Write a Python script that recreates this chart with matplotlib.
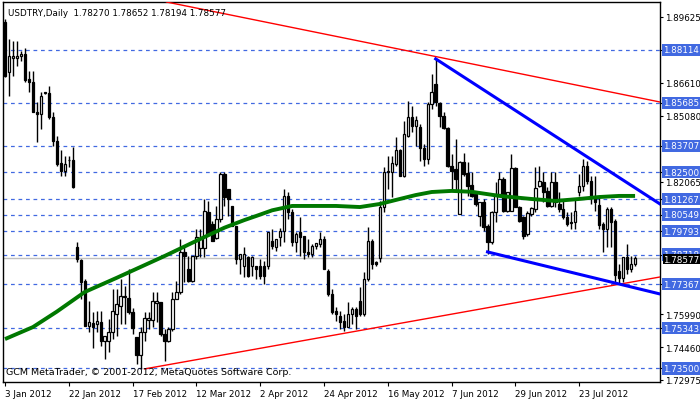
import numpy as np
import matplotlib
matplotlib.use('Agg')
import matplotlib.pyplot as plt

# daily candles
opens = [1.8939,1.8710,1.8774,1.8774,1.8783,1.8793,1.8678,1.8664,1.8526,1.8517,
         1.8614,1.8614,1.8503,1.8393,1.8292,1.8256,1.8306,1.8306,1.7907,1.7847,
         1.7751,1.7544,1.7558,1.7553,1.7562,1.7475,1.7475,1.7517,1.7599,1.7636,
         1.7677,1.7673,1.7608,1.7494,1.7411,1.7517,1.7572,1.7572,1.7650,1.7654,
         1.7507,1.7475,1.7530,1.7668,1.7700,1.7884,1.7806,1.7751,1.7865,1.7902,
         1.7902,1.8068,1.8012,1.7948,1.8035,1.8242,1.8173,1.8095,1.8003,1.7852,
         1.7820,1.7861,1.7820,1.7820,1.7820,1.7820,1.7820,1.7934,1.7907,1.7953,
         1.7980,1.8141,1.8068,1.7930,1.7976,1.7957,1.7884,1.7875,1.7911,1.7921,
         1.7943,1.7797,1.7691,1.7613,1.7590,1.7567,1.7539,1.7599,1.7622,1.7659,
         1.7599,1.7760,1.7934,1.7838,1.7856,1.8090,1.8251,1.8251,1.8288,1.8352,
         1.8233,1.8416,1.8503,1.8462,1.8457,1.8361,1.8311,1.8563,1.8655,1.8568,
         1.8508,1.8453,1.8278,1.8265,1.8058,1.8297,1.8246,1.8191,1.8150,1.8049,
         1.8113,1.8003,1.7930,1.8068,1.8150,1.8219,1.8072,1.8072,1.8269,1.8090,
         1.8044,1.7966,1.8058,1.8081,1.8187,1.8205,1.8164,1.8095,1.8205,1.8104,
         1.8081,1.8044,1.8021,1.8021,1.8159,1.8187,1.8278,1.8210,1.8136,1.8099,
         1.8012,1.7989,1.8081,1.8026,1.7797,1.7764,1.7861,1.7806,1.78270]
highs = [1.8953,1.8861,1.8852,1.8852,1.8806,1.8820,1.8715,1.8715,1.8572,1.8618,
         1.8618,1.8646,1.8526,1.8416,1.8352,1.8324,1.8324,1.8366,1.7930,1.7852,
         1.7760,1.7659,1.7608,1.7613,1.7613,1.7498,1.7577,1.7714,1.7714,1.7760,
         1.7728,1.7806,1.7627,1.7494,1.7539,1.7608,1.7608,1.7700,1.7700,1.7654,
         1.7530,1.7539,1.7700,1.7751,1.7943,1.7911,1.7865,1.7865,1.7989,1.7989,
         1.8127,1.8118,1.8026,1.8095,1.8251,1.8251,1.8173,1.8095,1.8003,1.7875,
         1.7907,1.7865,1.7865,1.7820,1.7852,1.7842,1.7976,1.7989,1.7943,1.7994,
         1.8173,1.8159,1.8081,1.7976,1.8044,1.7957,1.7943,1.7921,1.7925,1.7976,
         1.7957,1.7806,1.7714,1.7631,1.7613,1.7599,1.7654,1.7631,1.7631,1.7723,
         1.7792,1.7998,1.7943,1.7842,1.8118,1.8274,1.8324,1.8324,1.8412,1.8357,
         1.8485,1.8577,1.8554,1.8508,1.8471,1.8379,1.8572,1.8701,1.8770,1.8572,
         1.8526,1.8457,1.8334,1.8402,1.8301,1.8338,1.8297,1.8251,1.8164,1.8113,
         1.8127,1.8012,1.8072,1.8205,1.8251,1.8228,1.8159,1.8334,1.8274,1.8095,
         1.8049,1.8072,1.8090,1.8274,1.8278,1.8251,1.8182,1.8251,1.8251,1.8159,
         1.8118,1.8068,1.8068,1.8127,1.8242,1.8311,1.8301,1.8233,1.8233,1.8141,
         1.8021,1.8090,1.8090,1.8035,1.7829,1.7861,1.7921,1.7865,1.78652]
lows = [1.8687,1.8600,1.8692,1.8737,1.8760,1.8664,1.8618,1.8526,1.8389,1.8448,
        1.8609,1.8494,1.8370,1.8278,1.8233,1.8233,1.8274,1.8178,1.7838,1.7668,
        1.7544,1.7517,1.7443,1.7517,1.7452,1.7393,1.7425,1.7484,1.7498,1.7553,
        1.7553,1.7599,1.7507,1.7370,1.7347,1.7475,1.7530,1.7539,1.7562,1.7498,
        1.7383,1.7471,1.7521,1.7668,1.7691,1.7746,1.7746,1.7746,1.7852,1.7861,
        1.7861,1.7957,1.7934,1.7943,1.8021,1.8095,1.8049,1.8003,1.7829,1.7783,
        1.7769,1.7769,1.7774,1.7760,1.7760,1.7737,1.7806,1.7897,1.7888,1.7911,
        1.7930,1.8035,1.7911,1.7884,1.7865,1.7852,1.7861,1.7861,1.7897,1.7907,
        1.7806,1.7682,1.7599,1.7567,1.7530,1.7521,1.7539,1.7553,1.7530,1.7590,
        1.7590,1.7751,1.7806,1.7820,1.7838,1.8068,1.8173,1.8136,1.8278,1.8233,
        1.8228,1.8412,1.8435,1.8370,1.8301,1.8278,1.8288,1.8540,1.8554,1.8457,
        1.8448,1.8274,1.8173,1.8159,1.8058,1.8233,1.8141,1.8136,1.8095,1.8003,
        1.7980,1.7875,1.7921,1.8021,1.8141,1.8068,1.8068,1.8072,1.8090,1.8021,
        1.7943,1.7957,1.8049,1.8068,1.8182,1.8113,1.8090,1.8090,1.8090,1.8068,
        1.8035,1.8003,1.7989,1.7989,1.8141,1.8164,1.8196,1.8104,1.8072,1.7989,
        1.7884,1.7907,1.7907,1.7737,1.7737,1.7746,1.7783,1.7792,1.78194]
closes = [1.8692,1.8783,1.8783,1.8783,1.8793,1.8673,1.8664,1.8526,1.8517,1.8600,
          1.8614,1.8503,1.8393,1.8288,1.8256,1.8288,1.8306,1.8182,1.7852,1.7746,
          1.7544,1.7562,1.7539,1.7567,1.7475,1.7498,1.7517,1.7613,1.7645,1.7682,
          1.7682,1.7608,1.7535,1.7411,1.7517,1.7581,1.7581,1.7659,1.7659,1.7507,
          1.7475,1.7530,1.7668,1.7700,1.7884,1.7865,1.7751,1.7865,1.7953,1.7948,
          1.8072,1.7966,1.7934,1.8035,1.8242,1.8136,1.8127,1.8003,1.7852,1.7875,
          1.7875,1.7774,1.7861,1.7806,1.7774,1.7774,1.7976,1.7911,1.7943,1.7980,
          1.8141,1.8068,1.7930,1.7966,1.7953,1.7884,1.7875,1.7911,1.7925,1.7943,
          1.7806,1.7691,1.7608,1.7599,1.7562,1.7539,1.7599,1.7622,1.7590,1.7599,
          1.7760,1.7934,1.7829,1.7829,1.8090,1.8251,1.8256,1.8292,1.8352,1.8233,
          1.8425,1.8503,1.8462,1.8490,1.8361,1.8311,1.8563,1.8618,1.8572,1.8508,
          1.8453,1.8278,1.8256,1.8219,1.8297,1.8242,1.8187,1.8141,1.8104,1.8113,
          1.7998,1.7930,1.8068,1.8150,1.8219,1.8072,1.8159,1.8269,1.8090,1.8026,
          1.7957,1.8063,1.8086,1.8178,1.8210,1.8159,1.8095,1.8205,1.8113,1.8081,
          1.8044,1.8012,1.8017,1.8072,1.8187,1.8278,1.8210,1.8136,1.8113,1.8008,
          1.7989,1.8081,1.8021,1.7778,1.7764,1.7861,1.7806,1.7829,1.78577]

# moving average, read at anchor bars
ma_idx = [0, 7, 13, 20, 28, 34, 40, 48, 55, 60, 63, 67, 72, 83, 89, 94, 99, 103, 107, 112, 117, 124, 132, 138, 144, 149, 154, 158]
ma_val = [1.7484, 1.7539, 1.7610, 1.7700, 1.7765, 1.7815, 1.7865, 1.7935, 1.7995, 1.8030, 1.8049, 1.8075, 1.8095, 1.8095,
          1.8090, 1.8104, 1.8127, 1.8145, 1.8159, 1.8164, 1.8160, 1.8141, 1.8127, 1.8118, 1.8127, 1.8136, 1.8141, 1.8141]

# trend lines (bar index, price)
red_top = ([40.5, 164.25], [1.9031, 1.8572])
red_bottom = ([35, 164.25], [1.7347, 1.7769])
blue_top = ([108, 164.25], [1.8770, 1.8104])
blue_bottom = ([121, 164.25], [1.7884, 1.7691])

levels = [1.88114, 1.85685, 1.83707, 1.82500, 1.81267, 1.80549, 1.79793, 1.78718, 1.77367, 1.75343, 1.73500]
plain_ticks = [1.89625, 1.86610, 1.85080, 1.82065, 1.75990, 1.74460, 1.72975]
last_price = 1.78577

date_idx = [0, 16, 32, 48, 64, 80, 96, 112, 128, 144]
date_lbl = ['3 Jan 2012', '22 Jan 2012', '17 Feb 2012', '12 Mar 2012', '2 Apr 2012',
            '24 Apr 2012', '16 May 2012', '7 Jun 2012', '29 Jun 2012', '23 Jul 2012']

fig = plt.figure(figsize=(7, 4.02), dpi=100)
ax = fig.add_axes([3/700, 19/402, 657/700, 380/402])
ax.set_xlim(-0.5, 164.25)
ax.set_ylim(1.7287, 1.9031)

for lv in levels:
    ax.axhline(lv, color='#4169e1', lw=0.9, ls=(0, (3, 3)), zorder=1)
ax.axhline(last_price, color='#c0c0c0', lw=1, zorder=1)

x = np.arange(len(opens))
o = np.array(opens); c = np.array(closes)
ax.vlines(x, lows, highs, color='black', lw=1, zorder=3)
up = c >= o
body = np.abs(c - o)
body = np.where(body < 0.0002, 0.0002, body)
ax.bar(x[up], body[up], bottom=o[up], width=0.6, color='white', edgecolor='black', lw=0.9, zorder=4)
ax.bar(x[~up], body[~up], bottom=c[~up], width=0.6, color='black', edgecolor='black', lw=0.9, zorder=4)

ax.plot(ma_idx, ma_val, color='#007800', lw=2.8, zorder=5, solid_capstyle='butt')
ax.plot(*red_top, color='red', lw=1, zorder=6)
ax.plot(*red_bottom, color='red', lw=1, zorder=6)
ax.plot(*blue_top, color='blue', lw=2.2, zorder=6)
ax.plot(*blue_bottom, color='blue', lw=2.2, zorder=6)

fs = 6.3
ax.yaxis.tick_right()
ax.set_yticks(plain_ticks + levels)
ax.set_yticklabels(['%.5f' % v for v in plain_ticks] + [''] * len(levels), fontsize=fs)
ax.tick_params(axis='y', length=2, pad=1.5, width=0.8)
for lv in levels:
    ax.text(1.005, lv, '%.5f' % lv, transform=ax.get_yaxis_transform(), fontsize=fs, color='white',
            va='center', ha='left', bbox=dict(boxstyle='square,pad=0.2', fc='#4169e1', ec='none'), clip_on=False)
ax.text(1.005, last_price - 0.0008, '%.5f' % last_price, transform=ax.get_yaxis_transform(), fontsize=fs,
        color='white', va='center', ha='left', bbox=dict(boxstyle='square,pad=0.05', fc='black', ec='none'), clip_on=False)

ax.set_xticks(date_idx)
ax.set_xticklabels(date_lbl, fontsize=fs, ha='left')
ax.tick_params(axis='x', length=3, pad=2, width=0.8)

ax.text(0.008, 0.985, 'USDTRY,Daily  1.78270 1.78652 1.78194 1.78577', transform=ax.transAxes,
        fontsize=fs, va='top', ha='left', zorder=10)
ax.text(0.004, 0.015, 'GCM MetaTrader, © 2001-2012, MetaQuotes Software Corp.', transform=ax.transAxes,
        fontsize=fs + 0.5, va='bottom', ha='left', zorder=10)

for s in ax.spines.values():
    s.set_linewidth(1)

fig.savefig('out.png', dpi=100)
